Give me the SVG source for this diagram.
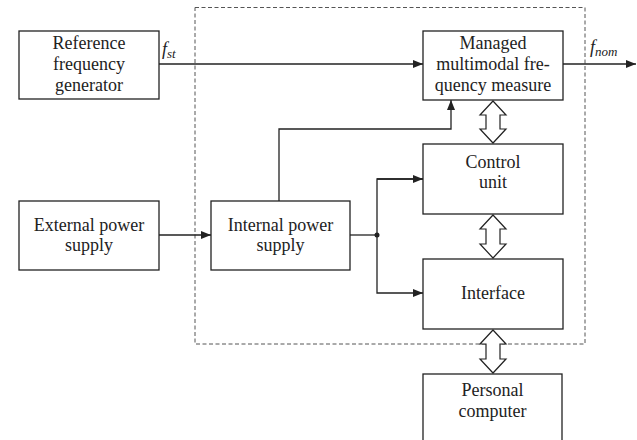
<svg xmlns="http://www.w3.org/2000/svg" width="637" height="440" viewBox="0 0 637 440" font-family="Liberation Serif, serif" font-size="18">
<style>
.box{fill:#fff;stroke:#222;stroke-width:1.3}
.t{fill:#222;text-anchor:middle}
.ln{fill:none;stroke:#222;stroke-width:1.3}
.dbl{fill:#fff;stroke:#222;stroke-width:1.2}
</style>
<defs>
<marker id="ah" viewBox="0 0 10 8" refX="10" refY="4" markerWidth="10" markerHeight="8" markerUnits="userSpaceOnUse" orient="auto">
<path d="M0,0 L10,4 L0,8 Z" fill="#222"/>
</marker>
</defs>
<rect x="0" y="0" width="637" height="440" fill="#fff"/>
<rect x="195" y="7.5" width="390" height="336.5" fill="none" stroke="#555" stroke-width="1" stroke-dasharray="4,2.5"/>
<g id="ref"><rect class="box" x="19" y="31" width="140" height="68"/>
<text class="t" x="89" y="48.5">Reference</text><text class="t" x="89" y="69.5">frequency</text><text class="t" x="89" y="90.5">generator</text></g>
<g id="managed"><rect class="box" x="423" y="31" width="140" height="69"/>
<text class="t" x="493" y="48.5">Managed</text><text class="t" x="493" y="69.5">multimodal fre-</text><text class="t" x="493" y="90.5">quency measure</text></g>
<g id="external"><rect class="box" x="19" y="201" width="140" height="69"/>
<text class="t" x="89" y="231">External power</text><text class="t" x="89" y="251">supply</text></g>
<g id="internal"><rect class="box" x="211" y="201" width="139" height="69"/>
<text class="t" x="280.5" y="231">Internal power</text><text class="t" x="280.5" y="251">supply</text></g>
<g id="control"><rect class="box" x="423" y="144" width="140" height="70"/>
<text class="t" x="493" y="168">Control</text><text class="t" x="493" y="188">unit</text></g>
<g id="interface"><rect class="box" x="423" y="259" width="140" height="70"/>
<text class="t" x="493" y="299">Interface</text></g>
<g id="pc"><rect class="box" x="423" y="374" width="139" height="70"/>
<text class="t" x="492.5" y="396">Personal</text><text class="t" x="492.5" y="417">computer</text></g>
<g id="labels" font-style="italic" fill="#222">
<text x="162" y="55" font-size="18">f<tspan font-size="13" dy="3">st</tspan></text>
<text x="590" y="53" font-size="18">f<tspan font-size="13" dy="3">nom</tspan></text>
</g>
<g id="connectors">
<path class="ln" d="M159,64 H423" marker-end="url(#ah)"/>
<path class="ln" d="M563,64 H636" marker-end="url(#ah)"/>
<path class="ln" d="M159,235 H211" marker-end="url(#ah)"/>
<path class="ln" d="M350,235 H377"/>
<path class="ln" d="M423,179 H377 V293 H423" marker-end="url(#ah)"/>
<path class="ln" d="M377,179 H423" marker-end="url(#ah)"/>
<circle cx="377" cy="235" r="2.5" fill="#222"/>
<path class="ln" d="M279,201 V129 H451 V100" marker-end="url(#ah)"/>
<path class="dbl" d="M493,101 L506,115 L500,115 L500,129 L506,129 L493,143 L480,129 L486,129 L486,115 L480,115 Z"/>
<path class="dbl" d="M493,215 L506,229 L500,229 L500,244 L506,244 L493,258 L480,244 L486,244 L486,229 L480,229 Z"/>
<path class="dbl" d="M493,330 L506,344 L500,344 L500,359 L506,359 L493,373 L480,359 L486,359 L486,344 L480,344 Z"/>
</g>
</svg>
